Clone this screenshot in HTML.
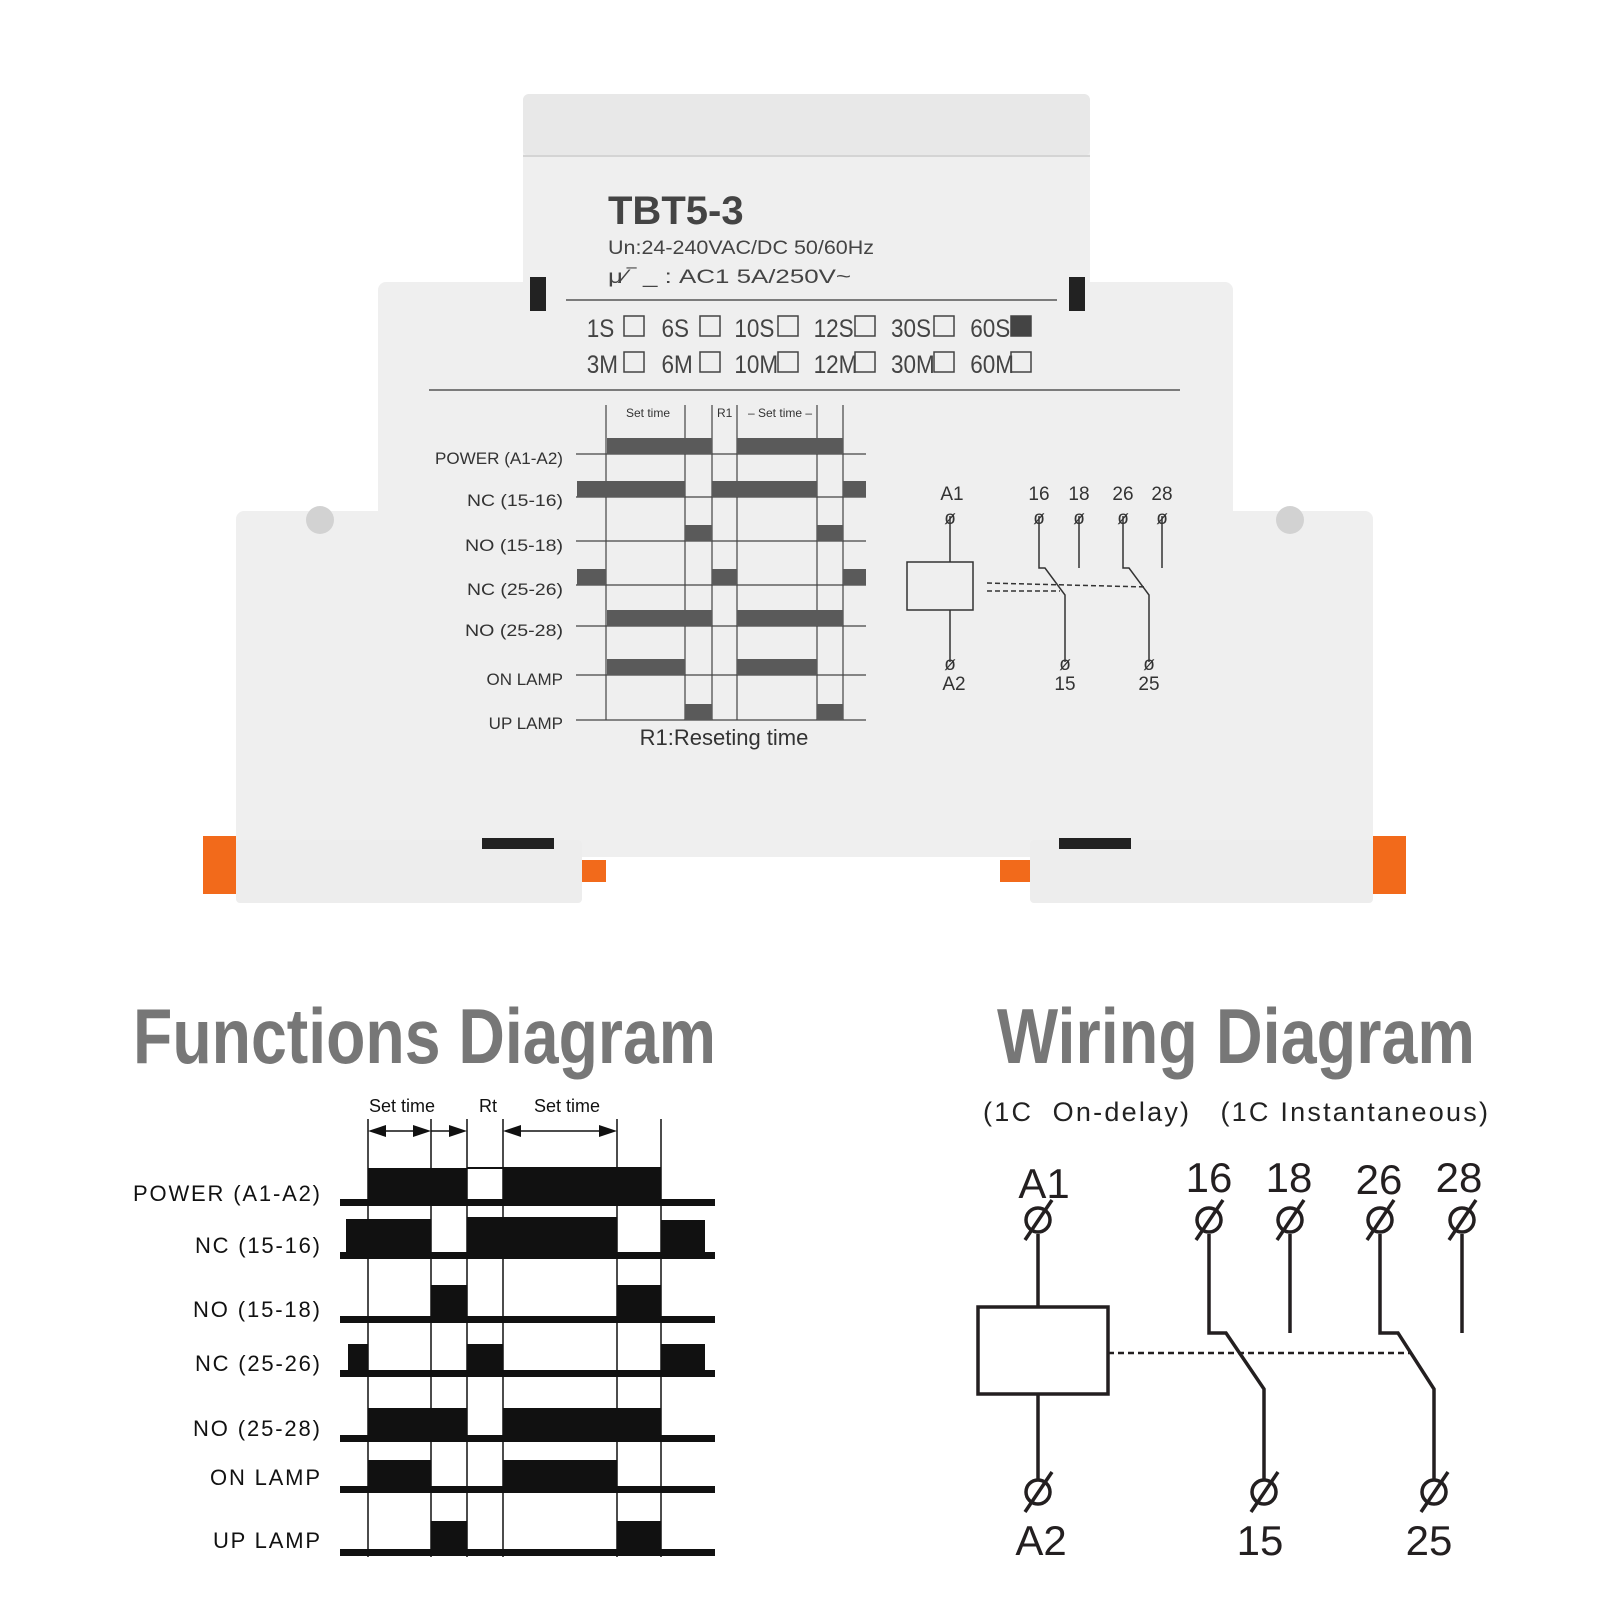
<!DOCTYPE html>
<html><head><meta charset="utf-8"><style>
html,body{margin:0;padding:0;background:#fff}
svg{display:block}
text{font-family:"Liberation Sans",sans-serif}
</style></head><body>
<svg width="1600" height="1600" viewBox="0 0 1600 1600" xmlns="http://www.w3.org/2000/svg">
<!-- device body -->
<rect x="523" y="94" width="567" height="200" rx="6" fill="#efefef"/>
<rect x="523" y="94" width="567" height="62" rx="6" fill="#e8e8e8"/>
<line x1="523" y1="156" x2="1090" y2="156" stroke="#d4d4d4" stroke-width="2"/>
<rect x="378" y="282" width="855" height="240" rx="8" fill="#efefef"/>
<rect x="236" y="511" width="1137" height="346" rx="8" fill="#efefef"/>
<rect x="236" y="840" width="346" height="63" rx="4" fill="#ededed"/>
<rect x="1030" y="840" width="343" height="63" rx="4" fill="#ededed"/>
<rect x="530" y="277" width="16" height="34" fill="#222"/>
<rect x="1069" y="277" width="16" height="34" fill="#222"/>
<rect x="482" y="838" width="72" height="11" fill="#222"/>
<rect x="1059" y="838" width="72" height="11" fill="#222"/>
<circle cx="320" cy="520" r="14" fill="#d2d2d2"/>
<circle cx="1290" cy="520" r="14" fill="#d2d2d2"/>
<rect x="203" y="836" width="33" height="58" fill="#f26a1b"/>
<rect x="1373" y="836" width="33" height="58" fill="#f26a1b"/>
<rect x="582" y="860" width="24" height="22" fill="#f26a1b"/>
<rect x="1000" y="860" width="30" height="22" fill="#f26a1b"/>
<!-- device text -->
<text x="608" y="224" font-size="40" font-weight="bold" fill="#444">TBT5-3</text>
<text x="608" y="254" font-size="19" fill="#444" textLength="266" lengthAdjust="spacingAndGlyphs">Un:24-240VAC/DC 50/60Hz</text>
<text x="608" y="283" font-size="19" fill="#444" textLength="243" lengthAdjust="spacingAndGlyphs">μ⁄‾ _ : AC1 5A/250V~</text>
<line x1="566" y1="300" x2="1057" y2="300" stroke="#555" stroke-width="1.5"/>
<g font-size="25" fill="#444" transform="scale(0.9,1)">
<text x="652" y="337">1S</text><text x="735" y="337">6S</text><text x="816" y="337">10S</text><text x="904" y="337">12S</text><text x="990" y="337">30S</text><text x="1078" y="337">60S</text>
<text x="652" y="373">3M</text><text x="735" y="373">6M</text><text x="816" y="373">10M</text><text x="904" y="373">12M</text><text x="990" y="373">30M</text><text x="1078" y="373">60M</text>
</g>
<g fill="none" stroke="#444" stroke-width="1.5">
<rect x="624" y="316" width="20" height="20"/><rect x="700" y="316" width="20" height="20"/><rect x="778" y="316" width="20" height="20"/><rect x="855" y="316" width="20" height="20"/><rect x="934" y="316" width="20" height="20"/><rect x="1011" y="316" width="20" height="20" fill="#444"/>
<rect x="624" y="352" width="20" height="20"/><rect x="700" y="352" width="20" height="20"/><rect x="778" y="352" width="20" height="20"/><rect x="855" y="352" width="20" height="20"/><rect x="934" y="352" width="20" height="20"/><rect x="1011" y="352" width="20" height="20"/>
</g>
<line x1="429" y1="390" x2="1180" y2="390" stroke="#555" stroke-width="1.5"/>
<!-- device chart -->
<g stroke="#444" stroke-width="1.2">
<line x1="606" y1="405" x2="606" y2="720"/><line x1="685" y1="405" x2="685" y2="720"/><line x1="712" y1="405" x2="712" y2="720"/><line x1="737" y1="405" x2="737" y2="720"/><line x1="817" y1="405" x2="817" y2="720"/><line x1="843" y1="405" x2="843" y2="720"/>
<line x1="576" y1="454" x2="866" y2="454"/><line x1="576" y1="497" x2="866" y2="497"/><line x1="576" y1="541" x2="866" y2="541"/><line x1="576" y1="585" x2="866" y2="585"/><line x1="576" y1="626" x2="866" y2="626"/><line x1="576" y1="675" x2="866" y2="675"/><line x1="576" y1="720" x2="866" y2="720"/>
</g>
<g fill="#5a5a5a">
<rect x="607" y="438" width="105" height="16"/><rect x="737" y="438" width="106" height="16"/>
<rect x="577" y="481" width="108" height="16"/><rect x="712" y="481" width="105" height="16"/><rect x="843" y="481" width="23" height="16"/>
<rect x="685" y="525" width="27" height="16"/><rect x="817" y="525" width="26" height="16"/>
<rect x="577" y="569" width="29" height="16"/><rect x="712" y="569" width="25" height="16"/><rect x="843" y="569" width="23" height="16"/>
<rect x="607" y="610" width="105" height="16"/><rect x="737" y="610" width="106" height="16"/>
<rect x="607" y="659" width="78" height="16"/><rect x="737" y="659" width="80" height="16"/>
<rect x="685" y="704" width="27" height="16"/><rect x="817" y="704" width="26" height="16"/>
</g>
<g font-size="17" fill="#333" text-anchor="end">
<text x="563" y="464" textLength="128" lengthAdjust="spacingAndGlyphs">POWER (A1-A2)</text><text x="563" y="506" textLength="96" lengthAdjust="spacingAndGlyphs">NC (15-16)</text><text x="563" y="551" textLength="98" lengthAdjust="spacingAndGlyphs">NO (15-18)</text><text x="563" y="595" textLength="96" lengthAdjust="spacingAndGlyphs">NC (25-26)</text><text x="563" y="636" textLength="98" lengthAdjust="spacingAndGlyphs">NO (25-28)</text><text x="563" y="685">ON LAMP</text><text x="563" y="729">UP LAMP</text>
</g>
<g font-size="12" fill="#333"><text x="626" y="417">Set time</text><text x="717" y="417">R1</text><text x="748" y="417">– Set time –</text></g>
<text x="724" y="745" font-size="22" fill="#333" text-anchor="middle">R1:Reseting time</text>
<!-- device wiring -->
<g stroke="#333" stroke-width="1.5" fill="none">
<rect x="907" y="562" width="66" height="48"/>
<line x1="950" y1="516" x2="950" y2="562"/><line x1="950" y1="610" x2="950" y2="662"/>
<path d="M1039 516 V568 H1045 L1065 595 V662"/><line x1="1079" y1="516" x2="1079" y2="568"/>
<path d="M1123 516 V568 H1129 L1149 595 V662"/><line x1="1162" y1="516" x2="1162" y2="568"/>
<line x1="987" y1="583" x2="1147" y2="587" stroke-dasharray="5,3"/><line x1="987" y1="591" x2="1060" y2="591" stroke-dasharray="5,3"/>
</g>
<g font-size="19" fill="#333" text-anchor="middle">
<text x="952" y="500">A1</text><text x="1039" y="500">16</text><text x="1079" y="500">18</text><text x="1123" y="500">26</text><text x="1162" y="500">28</text>
<text x="950" y="524">ø</text><text x="1039" y="524">ø</text><text x="1079" y="524">ø</text><text x="1123" y="524">ø</text><text x="1162" y="524">ø</text>
<text x="950" y="670">ø</text><text x="1065" y="670">ø</text><text x="1149" y="670">ø</text>
<text x="954" y="690">A2</text><text x="1065" y="690">15</text><text x="1149" y="690">25</text>
</g>
<!-- titles -->
<text x="133" y="1063" font-size="78" font-weight="bold" fill="#777" textLength="583" lengthAdjust="spacingAndGlyphs">Functions Diagram</text>
<text x="997" y="1063" font-size="78" font-weight="bold" fill="#777" textLength="478" lengthAdjust="spacingAndGlyphs">Wiring Diagram</text>
<text x="983" y="1121" font-size="27" fill="#222" textLength="505" lengthAdjust="spacing" xml:space="preserve">(1C  On-delay)   (1C Instantaneous)</text>
<!-- functions chart -->
<g transform="translate(0,-3)">
<g font-size="18" fill="#111"><text x="369" y="1115">Set time</text><text x="479" y="1115">Rt</text><text x="534" y="1115">Set time</text></g>
<g stroke="#111" stroke-width="1.5">
<line x1="368" y1="1122" x2="368" y2="1560"/><line x1="431" y1="1122" x2="431" y2="1560"/><line x1="467" y1="1122" x2="467" y2="1560"/><line x1="503" y1="1122" x2="503" y2="1560"/><line x1="617" y1="1122" x2="617" y2="1560"/><line x1="661" y1="1122" x2="661" y2="1560"/>
<line x1="377" y1="1134" x2="424" y2="1134"/><line x1="431" y1="1134" x2="460" y2="1134"/><line x1="510" y1="1134" x2="610" y2="1134"/>
</g>
<g fill="#111">
<path d="M368 1134 l18 -6 v12z"/><path d="M431 1134 l-18 -6 v12z"/><path d="M467 1134 l-18 -6 v12z"/><path d="M503 1134 l18 -6 v12z"/><path d="M617 1134 l-18 -6 v12z"/>
<rect x="340" y="1202" width="375" height="7"/><rect x="340" y="1255" width="375" height="7"/><rect x="340" y="1319" width="375" height="7"/><rect x="340" y="1373" width="375" height="7"/><rect x="340" y="1438" width="375" height="7"/><rect x="340" y="1489" width="375" height="7"/><rect x="340" y="1552" width="375" height="7"/>
<rect x="368" y="1171" width="99" height="32"/><rect x="503" y="1170" width="158" height="33"/>
<rect x="467" y="1170" width="36" height="2"/>
<rect x="346" y="1222" width="85" height="34"/><rect x="467" y="1220" width="150" height="36"/><rect x="661" y="1223" width="44" height="33"/>
<rect x="431" y="1288" width="36" height="32"/><rect x="617" y="1288" width="44" height="32"/>
<rect x="348" y="1347" width="20" height="27"/><rect x="467" y="1347" width="36" height="27"/><rect x="661" y="1347" width="44" height="27"/>
<rect x="368" y="1411" width="99" height="28"/><rect x="503" y="1411" width="158" height="28"/>
<rect x="368" y="1463" width="63" height="27"/><rect x="503" y="1463" width="114" height="27"/>
<rect x="431" y="1524" width="36" height="29"/><rect x="617" y="1524" width="44" height="29"/>
</g>
<g font-size="22" fill="#111" text-anchor="end">
<text x="320" y="1204" textLength="187" lengthAdjust="spacing">POWER (A1-A2)</text><text x="320" y="1256" textLength="125" lengthAdjust="spacing">NC (15-16)</text><text x="320" y="1320" textLength="127" lengthAdjust="spacing">NO (15-18)</text><text x="320" y="1374" textLength="125" lengthAdjust="spacing">NC (25-26)</text><text x="320" y="1439" textLength="127" lengthAdjust="spacing">NO (25-28)</text><text x="320" y="1488" textLength="110" lengthAdjust="spacing">ON LAMP</text><text x="320" y="1551" textLength="107" lengthAdjust="spacing">UP LAMP</text>
</g>
</g>
<!-- wiring diagram -->
<g transform="translate(-5,-6)">
<g stroke="#231f20" stroke-width="3.5" fill="none">
<rect x="983" y="1313" width="130" height="87"/>
<line x1="1043" y1="1240" x2="1043" y2="1313"/><line x1="1043" y1="1400" x2="1043" y2="1485"/>
<path d="M1214 1240 V1339 H1231 L1269 1395 V1485"/><line x1="1295" y1="1240" x2="1295" y2="1339"/>
<path d="M1385 1240 V1339 H1403 L1439 1395 V1485"/><line x1="1467" y1="1240" x2="1467" y2="1339"/>
<line x1="1113" y1="1359" x2="1416" y2="1359" stroke-width="2.5" stroke-dasharray="6,4"/>
<circle cx="1043" cy="1226" r="12"/><line x1="1030" y1="1246" x2="1057" y2="1206"/>
<circle cx="1214" cy="1226" r="12"/><line x1="1201" y1="1246" x2="1228" y2="1206"/>
<circle cx="1295" cy="1226" r="12"/><line x1="1282" y1="1246" x2="1309" y2="1206"/>
<circle cx="1385" cy="1226" r="12"/><line x1="1372" y1="1246" x2="1399" y2="1206"/>
<circle cx="1467" cy="1226" r="12"/><line x1="1454" y1="1246" x2="1481" y2="1206"/>
<circle cx="1043" cy="1498" r="12"/><line x1="1030" y1="1518" x2="1057" y2="1478"/>
<circle cx="1269" cy="1498" r="12"/><line x1="1256" y1="1518" x2="1283" y2="1478"/>
<circle cx="1439" cy="1498" r="12"/><line x1="1426" y1="1518" x2="1453" y2="1478"/>
</g>
<g font-size="42" fill="#231f20" text-anchor="middle">
<text x="1049" y="1204">A1</text><text x="1214" y="1198">16</text><text x="1294" y="1198">18</text><text x="1384" y="1200">26</text><text x="1464" y="1198">28</text>
<text x="1046" y="1561">A2</text><text x="1265" y="1561">15</text><text x="1434" y="1561">25</text>
</g>
</g>
</svg>
</body></html>
